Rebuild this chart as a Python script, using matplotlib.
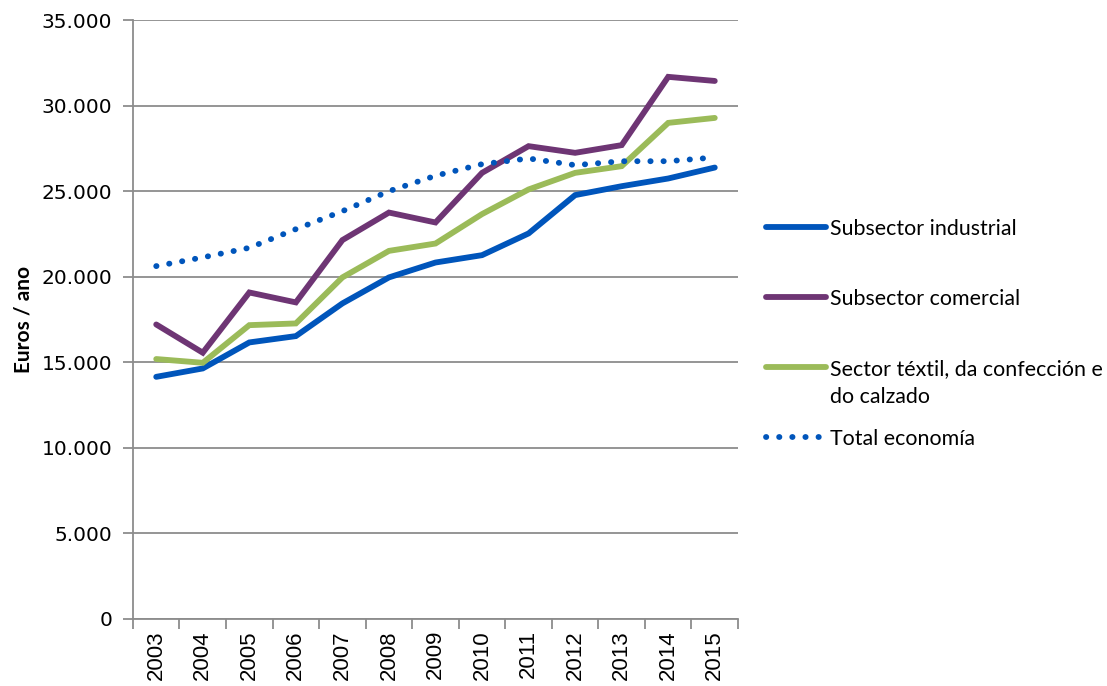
import matplotlib
matplotlib.use("Agg")
import matplotlib.pyplot as plt
from matplotlib.lines import Line2D
from matplotlib.ticker import FuncFormatter

# data (euros / year)
years = ["2003", "2004", "2005", "2006", "2007", "2008", "2009",
         "2010", "2011", "2012", "2013", "2014", "2015"]
industrial = [14150, 14640, 16160, 16530, 18440, 19960, 20830,
              21260, 22530, 24770, 25290, 25740, 26380]
comercial = [17210, 15560, 19080, 18500, 22140, 23750, 23170,
             26070, 27630, 27240, 27690, 31680, 31440]
textil = [15190, 14970, 17170, 17270, 19960, 21510, 21940,
          23660, 25100, 26070, 26460, 28990, 29280]
total = [20620, 21130, 21690, 22780, 23830, 25000, 25900,
         26580, 26910, 26520, 26750, 26750, 26970]

labels = ["Subsector industrial", "Subsector comercial",
          "Sector téxtil, da confección e\ndo calzado", "Total economía"]
colors = ["#0055BB", "#6E3574", "#9BBB59", "#0055BB"]
GRID = "#8C8C8C"
LEGEND_FONT = "Lato"
LW = 4.2
DOTS = (0, (0.05, 2.2))

fig = plt.figure(figsize=(11.07, 6.86), dpi=100)
ax = fig.add_axes([0.1201, 0.0977, 0.5466, 0.8731])

x = list(range(len(years)))
series = [industrial, comercial, textil, total]
styles = []
for vals, col, lab in zip(series, colors, labels):
    ls = DOTS if lab == "Total economía" else "-"
    ax.plot(x, vals, color=col, lw=LW, linestyle=ls, dash_capstyle="round",
            solid_capstyle="round", solid_joinstyle="miter", zorder=3)
    styles.append(ls)

ax.set_ylim(0, 35000)
ax.set_xlim(-0.5, len(years) - 0.5)
ax.set_yticks(range(0, 35001, 5000))
ax.yaxis.set_major_formatter(FuncFormatter(lambda v, p: f"{int(v):,}".replace(",", ".")))
ax.grid(axis="y", color=GRID, lw=1.3)
ax.set_axisbelow(True)

# category ticks between years, labels centred
ax.set_xticks([i - 0.5 for i in range(len(years) + 1)])
ax.set_xticklabels([])
ax.set_xticks(x, minor=True)
ax.set_xticklabels(years, minor=True, rotation=90, fontsize=16,
                   family="Liberation Sans")
ax.tick_params(axis="x", which="minor", length=0, pad=8)
ax.tick_params(axis="x", which="major", length=7, color=GRID, width=1.3)
ax.tick_params(axis="y", length=7, color=GRID, width=1.3, labelsize=14.5, pad=8)
for t in ax.get_yticklabels():
    t.set_family("DejaVu Sans")

for s in ["top", "right"]:
    ax.spines[s].set_visible(False)
for s in ["left", "bottom"]:
    ax.spines[s].set_color(GRID)
    ax.spines[s].set_linewidth(1.3)

ax.set_ylabel("Euros / ano", fontsize=15, fontweight="bold", family=LEGEND_FONT,
              labelpad=6)

# legend drawn like the Excel one: first lines evenly spaced
y0 = 1 - 227 / 686
step = 70 / 686
line_h = 28 / 686
for i, (col, ls, lab) in enumerate(zip(colors, styles, labels)):
    yy = y0 - i * step
    fig.add_artist(Line2D([766 / 1107, 826 / 1107], [yy, yy],
                          transform=fig.transFigure, color=col, lw=LW,
                          linestyle=ls, dash_capstyle="round",
                          solid_capstyle="round"))
    for j, part in enumerate(lab.split("\n")):
        fig.text(830 / 1107, yy - 8 / 686 - j * line_h, part, fontsize=15.4,
                 family=LEGEND_FONT, va="baseline", ha="left")

fig.savefig("out.png", dpi=100)
